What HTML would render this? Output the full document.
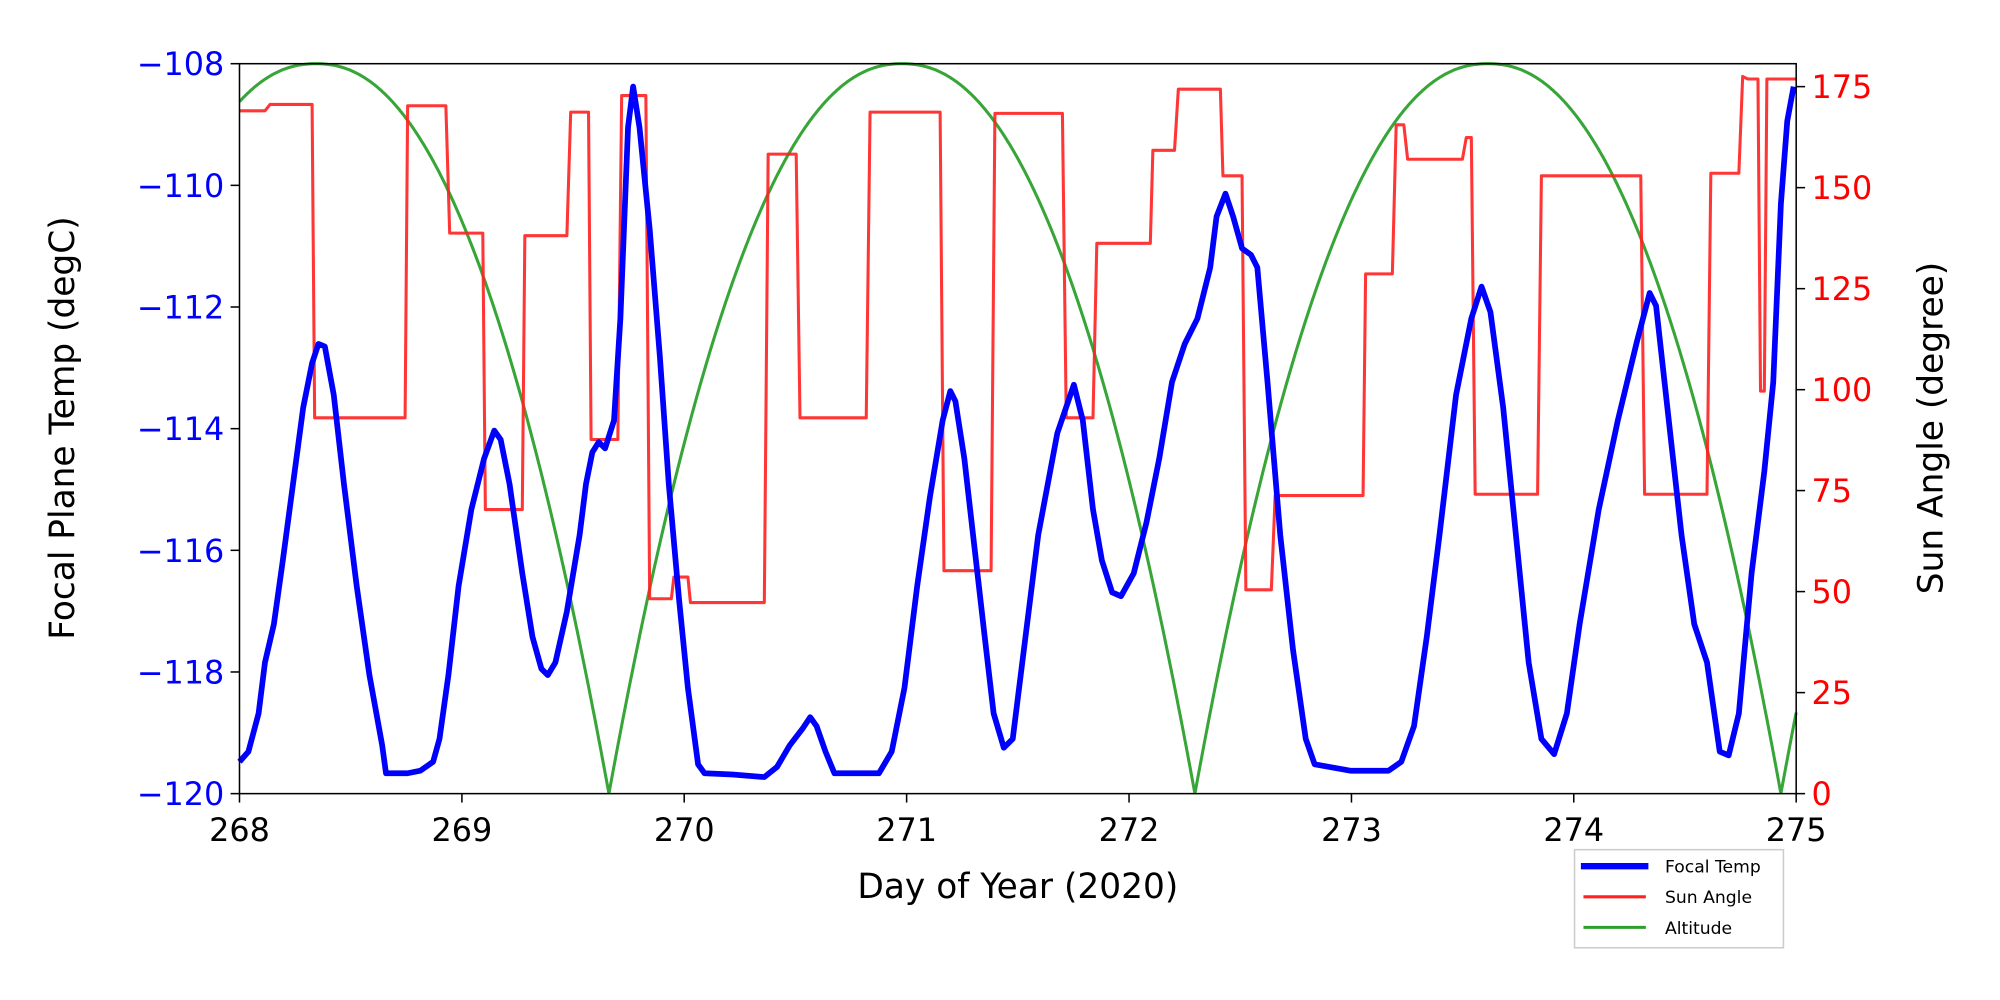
<!DOCTYPE html>
<html><head><meta charset="utf-8"><style>html,body{margin:0;padding:0;background:#fff}svg{display:block}text{font-family:"DejaVu Sans","Liberation Sans",sans-serif}</style></head>
<body>
<svg width="2000" height="1000" viewBox="0 0 1570 785" xmlns="http://www.w3.org/2000/svg">
<rect width="1570" height="785" fill="#fff"/>
<path id="alt" fill="none" stroke="#2ca02c" stroke-opacity="0.95" stroke-width="2.4" d=""/>
<polyline fill="none" stroke="#ff2020" stroke-opacity="0.9" stroke-width="2.4" stroke-linejoin="round" points="188,87 208,87 212,82 245,82 247,328 318,328 320,83 350,83 353,183 379,183 381,400 410,400 412,185 445,185 448,88 462,88 464,345 485,345 488,75 507,75 510,470 527,470 529,453 540,453 542,473 600,473 603,121 625,121 628,328 680,328 683,88 738,88 741,448 778,448 781,89 834,89 837,328 858,328 861,191 903,191 905,118 922,118 925,70 958,70 960,138 975,138 978,463 998,463 1001,389 1070,389 1072,215 1093,215 1096,98 1102,98 1105,125 1148,125 1151,108 1155,108 1158,388 1207,388 1210,138 1288,138 1291,388 1340,388 1343,136 1365,136 1368,60 1372,62 1380,62 1382,307 1385,307 1387,62 1405,62 1410,62"/>
<polyline fill="none" stroke="#0000ff" stroke-width="4.5" stroke-linejoin="round" points="188,598 195,590 203,560 208,520 215,490 222,440 230,380 238,320 245,285 250,270 255,272 262,310 270,380 280,460 290,530 300,585 303,607 320,607 330,605 340,598 345,580 352,530 360,460 370,400 380,360 388,338 393,345 400,380 410,450 418,500 425,525 430,530 436,520 445,480 455,420 460,380 465,355 470,347 475,352 482,330 487,250 493,100 497,68 502,100 510,180 518,280 525,380 533,470 540,540 548,600 553,607 575,608 600,610 610,602 620,585 630,572 636,563 641,570 648,590 655,607 670,607 690,607 700,590 710,540 720,460 730,390 740,330 746,307 750,315 757,360 765,430 773,500 780,560 788,587 795,580 805,500 815,420 830,340 843,302 850,330 858,400 865,440 873,465 880,468 890,450 900,410 910,360 920,300 930,270 940,250 950,210 955,170 962,152 968,170 975,195 982,200 987,210 995,300 1005,420 1015,510 1025,580 1032,600 1060,605 1090,605 1100,598 1110,570 1120,500 1130,420 1143,310 1155,250 1163,225 1170,245 1180,320 1190,420 1200,520 1210,580 1220,592 1230,560 1240,490 1255,400 1270,330 1285,268 1295,230 1300,240 1310,330 1320,420 1330,490 1340,520 1350,590 1357,593 1365,560 1375,450 1380,410 1385,370 1392,300 1398,160 1403,95 1408,68"/>
<rect x="188" y="50" width="1222" height="573" fill="none" stroke="#000" stroke-width="1.2"/>
<g stroke="#000" stroke-width="1.2">
<line x1="181" y1="50" x2="188" y2="50"/><line x1="181" y1="145.5" x2="188" y2="145.5"/><line x1="181" y1="241" x2="188" y2="241"/><line x1="181" y1="336.5" x2="188" y2="336.5"/><line x1="181" y1="432" x2="188" y2="432"/><line x1="181" y1="527.5" x2="188" y2="527.5"/><line x1="181" y1="623" x2="188" y2="623"/>
<line x1="188" y1="623" x2="188" y2="630"/><line x1="362.6" y1="623" x2="362.6" y2="630"/><line x1="537.1" y1="623" x2="537.1" y2="630"/><line x1="711.7" y1="623" x2="711.7" y2="630"/><line x1="886.3" y1="623" x2="886.3" y2="630"/><line x1="1060.9" y1="623" x2="1060.9" y2="630"/><line x1="1235.4" y1="623" x2="1235.4" y2="630"/><line x1="1410" y1="623" x2="1410" y2="630"/>
<line x1="1410" y1="623" x2="1417" y2="623"/><line x1="1410" y1="543.7" x2="1417" y2="543.7"/><line x1="1410" y1="464.4" x2="1417" y2="464.4"/><line x1="1410" y1="385.1" x2="1417" y2="385.1"/><line x1="1410" y1="305.9" x2="1417" y2="305.9"/><line x1="1410" y1="226.6" x2="1417" y2="226.6"/><line x1="1410" y1="147.3" x2="1417" y2="147.3"/><line x1="1410" y1="68" x2="1417" y2="68"/>
</g>
<g fill="#0000ff" font-size="25" text-anchor="end">
<text x="176" y="59">−108</text><text x="176" y="154.5">−110</text><text x="176" y="250">−112</text><text x="176" y="345.5">−114</text><text x="176" y="441">−116</text><text x="176" y="536.5">−118</text><text x="176" y="632">−120</text>
</g>
<g fill="#ff0000" font-size="25" text-anchor="start">
<text x="1422" y="632">0</text><text x="1422" y="552.7">25</text><text x="1422" y="473.4">50</text><text x="1422" y="394.1">75</text><text x="1422" y="314.9">100</text><text x="1422" y="235.6">125</text><text x="1422" y="156.3">150</text><text x="1422" y="77">175</text>
</g>
<g fill="#000" font-size="25" text-anchor="middle">
<text x="188" y="660">268</text><text x="362.6" y="660">269</text><text x="537.1" y="660">270</text><text x="711.7" y="660">271</text><text x="886.3" y="660">272</text><text x="1060.9" y="660">273</text><text x="1235.4" y="660">274</text><text x="1410" y="660">275</text>
<text x="799" y="705" font-size="27">Day of Year (2020)</text>
<text transform="translate(58,336) rotate(-90)" font-size="27">Focal Plane Temp (degC)</text>
<text transform="translate(1525,336) rotate(-90)" font-size="27">Sun Angle (degree)</text>
</g>
<rect x="1236" y="667" width="164" height="77" fill="#fff" stroke="#ccc" stroke-width="1.2"/>
<line x1="1241" y1="680" x2="1294" y2="680" stroke="#0000ff" stroke-width="5"/>
<line x1="1243" y1="704" x2="1292" y2="704" stroke="#ff2020" stroke-width="2.4"/>
<line x1="1243" y1="728" x2="1292" y2="728" stroke="#2ca02c" stroke-width="2.4"/>
<g font-size="13.5" fill="#000"><text x="1307" y="685">Focal Temp</text><text x="1307" y="709">Sun Angle</text><text x="1307" y="733">Altitude</text></g>
</svg>
<script>
var d="";for(var x=188;x<=1410;x+=1){var p=((x-248)%460+460)%460;var t=p/460;var u=Math.abs(t-0.5)*2;var y=623-573*(1-Math.pow(1-u,2.2));d+=(x==188?"M":"L")+x+","+y.toFixed(1);}
document.getElementById("alt").setAttribute("d",d);
</script>
</body></html>
